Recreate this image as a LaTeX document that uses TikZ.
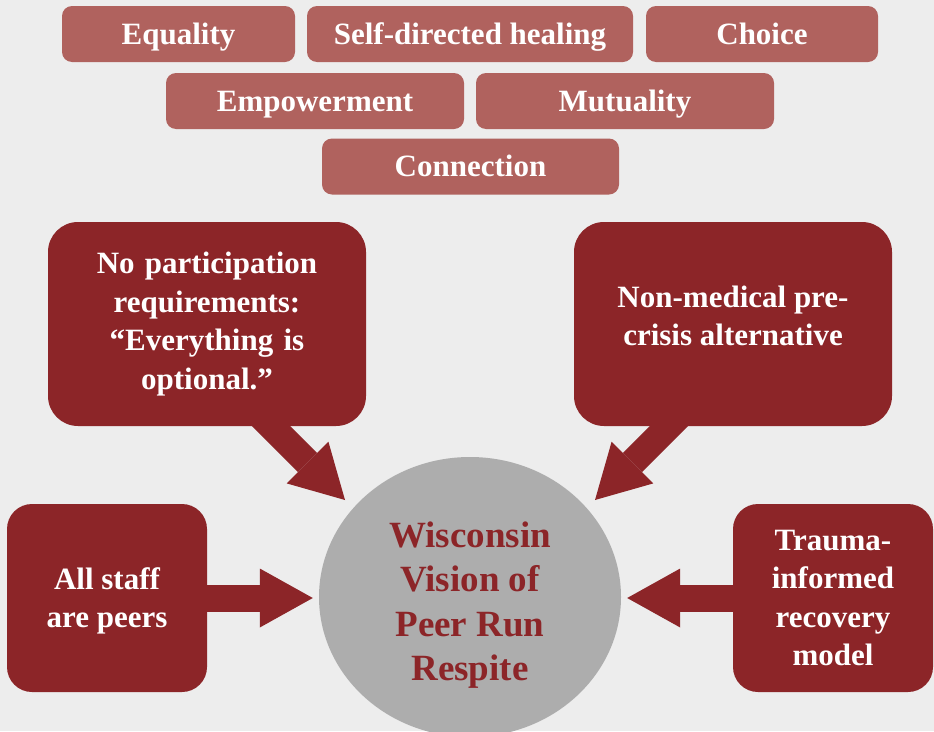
\documentclass[tikz,border=0pt]{standalone}
\usepackage{fontspec}
\setmainfont{Liberation Serif}
\usepackage{xcolor}
\usepackage{tikz}
\usetikzlibrary{calc,shapes.geometric,arrows.meta}
\tikzset{>=stealth}

\definecolor{bgray}{HTML}{EDEDED}
\definecolor{rose}{HTML}{B0625E}
\definecolor{wine}{HTML}{8C2528}
\definecolor{cgray}{HTML}{ADADAD}

\tikzset{
  value/.style={fill=rose,rounded corners=10pt,minimum height=56pt,text=white,
    text height=24pt,text depth=4pt,inner ysep=0pt,
    font=\fontsize{31}{38}\selectfont\bfseries},
  feature/.style={fill=wine,text=white,align=center,inner sep=0pt,
    font=\fontsize{31}{38.5}\selectfont\bfseries},
  bigarrow/.style={draw=wine,line width=27pt,
    -{Triangle[length=53pt,width=59pt,line width=0pt]}}
}

\begin{document}
\begin{tikzpicture}[x=1pt,y=-1pt]

  \fill[bgray] (0,0) rectangle (934,731);
  \useasboundingbox (0,0) rectangle (934,731);

  % values on top
  \node[value,minimum width=233pt] at (178.5,34) (equality) {Equality};
  \node[value,minimum width=326pt] at (470,34) (selfdir) {Self-directed healing};
  \node[value,minimum width=232pt] at (762,34) (choice) {Choice};
  \node[value,minimum width=298pt] at (315,101) (empower) {Empowerment};
  \node[value,minimum width=298pt] at (625,101) (mutual) {Mutuality};
  \node[value,minimum width=297pt] at (470.5,166.5) (connect) {Connection};

  % centre
  \node[ellipse,fill=cgray,minimum width=302pt,minimum height=280pt,inner sep=0pt]
    at (470,597) (vision) {};
  \node[text=wine,align=center,inner sep=0pt,font=\fontsize{37}{44.5}\selectfont\bfseries]
    at ($(vision)+(0,8)$) (visiontext) {Wisconsin\\Vision of\\Peer Run\\Respite};

  % boxes round it (drawn after the arrows below)
  \path (207,324) coordinate (nopart) (733,324) coordinate (nonmed)
        (107,598) coordinate (allstaff) (833,598) coordinate (trauma);

  \draw[bigarrow] ($(nopart)+(48,86)$) -- ($(vision.center)+(-125,-97)$);
  \draw[bigarrow] ($(nonmed)+(-48,86)$) -- ($(vision.center)+(125,-97)$);
  \draw[bigarrow] ($(allstaff)+(90,0)$) -- ($(vision.west)+(-6,1)$);
  \draw[bigarrow] ($(trauma)+(-90,0)$) -- ($(vision.east)+(6,1)$);

  \node[feature,rounded corners=30pt,minimum width=318pt,minimum height=204pt,text width=300pt]
    at (nopart) (nopartbox) {No participation\\requirements:\\``Everything is\\optional.''};
  \node[feature,rounded corners=30pt,minimum width=318pt,minimum height=204pt]
    at (nonmed) (nonmedbox) {};
  \node[feature] at ($(nonmed)+(0,-8)$) (nonmedtext) {Non-medical pre-\\crisis alternative};
  \node[feature,rounded corners=25pt,minimum width=200pt,minimum height=188pt]
    at (allstaff) (allstaffbox) {};
  \node[feature] at ($(allstaff)+(0,3)$) (allstafftext) {All staff\\are peers};
  \node[feature,rounded corners=25pt,minimum width=200pt,minimum height=188pt,text width=190pt]
    at (trauma) (traumabox) {Trauma-\\informed\\recovery\\model};

\end{tikzpicture}
\end{document}
